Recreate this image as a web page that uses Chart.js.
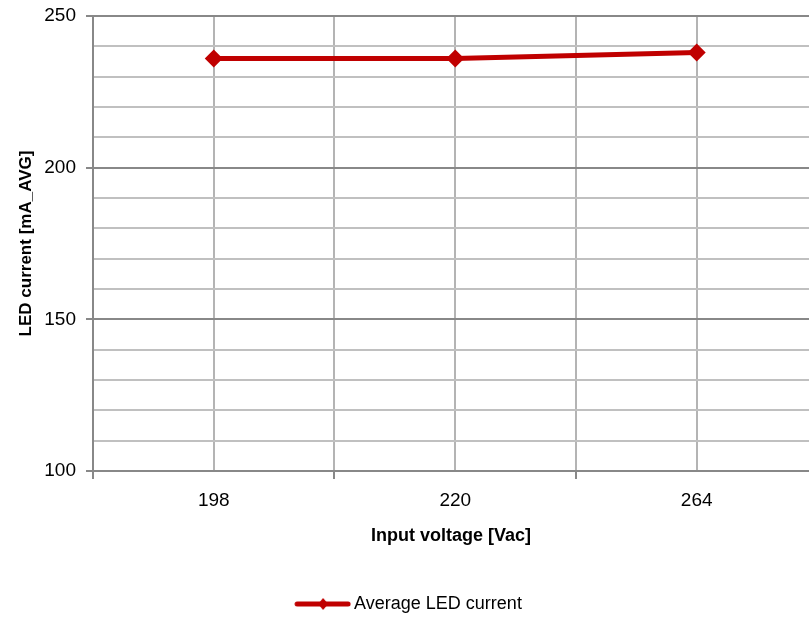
<!DOCTYPE html>
<html>
<head>
<meta charset="utf-8">
<script src="https://cdn.jsdelivr.net/npm/chart.js@4/dist/chart.umd.min.js"></script>
<style>
  html, body { margin: 0; padding: 0; background: #fff; }
  #wrap { width: 809px; height: 620px; }
</style>
</head>
<body>
<div id="wrap"><canvas id="chart"></canvas></div>
<script>
// 데이터
const categories = ['198', '220', '264'];
const ledCurrent = [236, 236, 238];
const yTickLabels = [100, 150, 200, 250];

const RED = '#c00000';
const MAJOR = '#888888';
const MINOR = '#c0c0c0';

// 범례 아이콘 (선 + 마름모)
function legendIcon() {
    const c = document.createElement('canvas');
    c.width = 70; c.height = 14;
    const g = c.getContext('2d');
    g.strokeStyle = RED;
    g.lineWidth = 5;
    g.lineCap = 'round';
    g.beginPath(); g.moveTo(16, 7); g.lineTo(67, 7); g.stroke();
    g.fillStyle = RED;
    g.beginPath(); g.moveTo(42, 1); g.lineTo(47, 7); g.lineTo(42, 13); g.lineTo(37, 7); g.closePath(); g.fill();
    return c;
}
const icon = legendIcon();

// 범례를 조금 아래로
const legendShift = {
    id: 'legendShift',
    afterLayout(chart) {
        if (chart.legend) {
            chart.legend.top += 3;
            chart.legend.bottom += 3;
        }
    }
};

Chart.defaults.font.family = '"Liberation Sans", Arial, sans-serif';
Chart.defaults.color = '#000';

new Chart(document.getElementById('chart'), {
    type: 'line',
    data: {
        datasets: [{
            label: 'Average LED current',
            data: ledCurrent.map((v, i) => ({ x: i, y: v })),
            borderColor: RED,
            backgroundColor: RED,
            borderWidth: 5,
            pointStyle: 'rectRot',
            pointRadius: 9,
            pointHoverRadius: 9,
            pointBackgroundColor: RED,
            pointBorderWidth: 0,
            tension: 0
        }]
    },
    plugins: [legendShift],
    options: {
        responsive: true,
        maintainAspectRatio: false,
        animation: false,
        layout: { padding: 0, autoPadding: false },
        plugins: {
            tooltip: { enabled: false },
            legend: {
                position: 'bottom',
                labels: {
                    usePointStyle: true,
                    pointStyleWidth: 58,
                    padding: 3,
                    font: { size: 18 },
                    generateLabels: (chart) => [{
                        text: chart.data.datasets[0].label,
                        pointStyle: icon,
                        fillStyle: RED,
                        strokeStyle: RED,
                        lineWidth: 0,
                        datasetIndex: 0
                    }]
                }
            }
        },
        scales: {
            x: {
                type: 'linear',
                min: -0.5,
                max: 2.465,
                afterBuildTicks: (scale) => {
                    scale.ticks = [-0.5, 0, 0.5, 1, 1.5, 2].map(v => ({ value: v }));
                },
                afterFit: (scale) => {
                    scale.height = 118;
                    scale.paddingLeft = 0;
                    scale.paddingRight = 0;
                },
                ticks: {
                    autoSkip: false,
                    maxRotation: 0,
                    padding: 10,
                    font: { size: 19 },
                    callback: (v) => Number.isInteger(v) ? categories[v] : ''
                },
                grid: {
                    color: '#b4b4b4',
                    lineWidth: 2,
                    tickLength: 8,
                    tickColor: (ctx) => (ctx.tick && Number.isInteger(ctx.tick.value)) ? 'transparent' : MAJOR
                },
                border: { color: MAJOR, width: 2 },
                title: {
                    display: true,
                    text: 'Input voltage [Vac]',
                    font: { size: 18, weight: 'bold' },
                    padding: { top: 0, bottom: 42 }
                }
            },
            y: {
                min: 100,
                max: 250,
                afterFit: (scale) => {
                    scale.width = 93;
                    scale.paddingTop = 16;
                    scale.paddingBottom = 0;
                },
                ticks: {
                    stepSize: 10,
                    autoSkip: false,
                    padding: 10,
                    font: { size: 19 },
                    callback: (v) => yTickLabels.includes(v) ? String(v) : ''
                },
                grid: {
                    color: (ctx) => (ctx.tick && ctx.tick.value % 50 === 0) ? MAJOR : MINOR,
                    lineWidth: 2,
                    tickLength: 7,
                    tickColor: (ctx) => (ctx.tick && ctx.tick.value % 50 === 0) ? MAJOR : 'transparent'
                },
                border: { color: MAJOR, width: 2 },
                title: {
                    display: true,
                    text: 'LED current [mA_AVG]',
                    font: { size: 17, weight: 'bold' },
                    padding: { top: 16, bottom: 0 }
                }
            }
        }
    }
});
</script>
</body>
</html>
